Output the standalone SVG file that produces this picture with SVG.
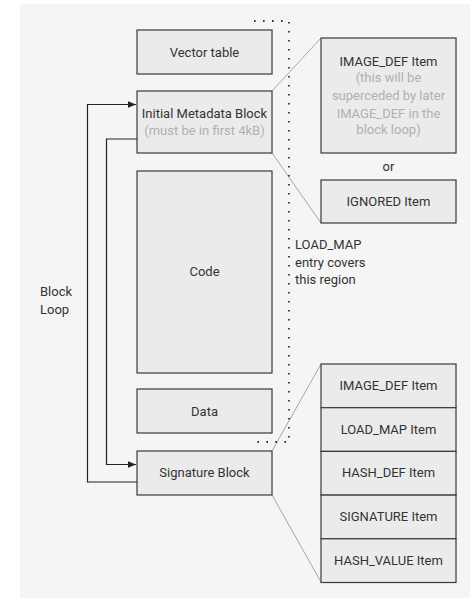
<svg xmlns="http://www.w3.org/2000/svg" width="470" height="599" viewBox="0 0 470 599">
<defs>
<marker id="ah" viewBox="0 0 10 10" refX="10" refY="5" markerWidth="8" markerHeight="8" markerUnits="userSpaceOnUse" orient="auto">
<path d="M0,1 L10,5 L0,9 Z" fill="#222"/>
</marker>
<style>
.box{fill:#ebebeb;stroke:#3a3a3a;stroke-width:1.2}
.t{font-family:Roboto,"Liberation Sans",sans-serif;font-size:13px;fill:#333;text-anchor:middle}
.g{fill:#b0b0b0}
.l{text-anchor:start}
.fan{stroke:#a6a6a6;stroke-width:1;fill:none}
.loop{stroke:#222;stroke-width:1.2;fill:none}
.dot{stroke:#333;stroke-width:1.8;fill:none;stroke-dasharray:1.6 7.4}
</style>
</defs>
<rect x="0" y="0" width="470" height="599" fill="#ffffff"/>
<rect x="20" y="4" width="450" height="594" fill="#f5f5f5"/>

<g id="connectors">
<path class="fan" d="M272,91 L321,38"/>
<path class="fan" d="M272,153 L321,223"/>
<path class="fan" d="M272,451 L321,364"/>
<path class="fan" d="M272,495 L321,582"/>
<path class="loop" d="M137,482 H87.5 V104.5 H136" marker-end="url(#ah)"/>
<path class="loop" d="M137,139 H106.5 V464.5 H136" marker-end="url(#ah)"/>
<path class="dot" d="M254,21 H289 V442 H257"/>
</g>

<g id="vector-table"><rect class="box" x="137" y="30" width="135" height="44"/><text class="t" x="204.5" y="56.5">Vector table</text></g>
<g id="initial-metadata-block"><rect class="box" x="137" y="91" width="135" height="62"/><text class="t" x="204.5" y="117.5">Initial Metadata Block</text><text class="t g" x="204.5" y="134.5">(must be in first 4kB)</text></g>
<g id="code"><rect class="box" x="137" y="171" width="135" height="202"/><text class="t" x="204.5" y="276">Code</text></g>
<g id="data"><rect class="box" x="137" y="389" width="135" height="44"/><text class="t" x="204.5" y="416">Data</text></g>
<g id="signature-block"><rect class="box" x="137" y="451" width="135" height="44"/><text class="t" x="204.5" y="476.5">Signature Block</text></g>

<g id="image-def-item-top"><rect class="box" x="321" y="38" width="135" height="115"/><text class="t" x="388.5" y="65.5">IMAGE_DEF Item</text><text class="t g" x="388.5" y="82">(this will be</text><text class="t g" x="388.5" y="100">superceded by later</text><text class="t g" x="388.5" y="117.5">IMAGE_DEF in the</text><text class="t g" x="388.5" y="134">block loop)</text></g>
<g id="or-label"><text class="t" x="388.5" y="170.5">or</text></g>
<g id="ignored-item"><rect class="box" x="321" y="180" width="135" height="43"/><text class="t" x="388.5" y="206">IGNORED Item</text></g>

<g id="block-loop-label"><text class="t l" x="40" y="296">Block</text><text class="t l" x="40" y="314">Loop</text></g>
<g id="load-map-label"><text class="t l" x="295" y="249">LOAD_MAP</text><text class="t l" x="295" y="267">entry covers</text><text class="t l" x="295" y="284">this region</text></g>

<g id="sig-items">
<g id="sig-image-def"><rect class="box" x="321" y="364" width="135" height="43.7"/><text class="t" x="388.5" y="390">IMAGE_DEF Item</text></g>
<g id="sig-load-map"><rect class="box" x="321" y="407.7" width="135" height="43.7"/><text class="t" x="388.5" y="433.5">LOAD_MAP Item</text></g>
<g id="sig-hash-def"><rect class="box" x="321" y="451.4" width="135" height="43.7"/><text class="t" x="388.5" y="477">HASH_DEF Item</text></g>
<g id="sig-signature"><rect class="box" x="321" y="495.1" width="135" height="43.7"/><text class="t" x="388.5" y="521">SIGNATURE Item</text></g>
<g id="sig-hash-value"><rect class="box" x="321" y="538.8" width="135" height="43.7"/><text class="t" x="388.5" y="565">HASH_VALUE Item</text></g>
</g>
</svg>
